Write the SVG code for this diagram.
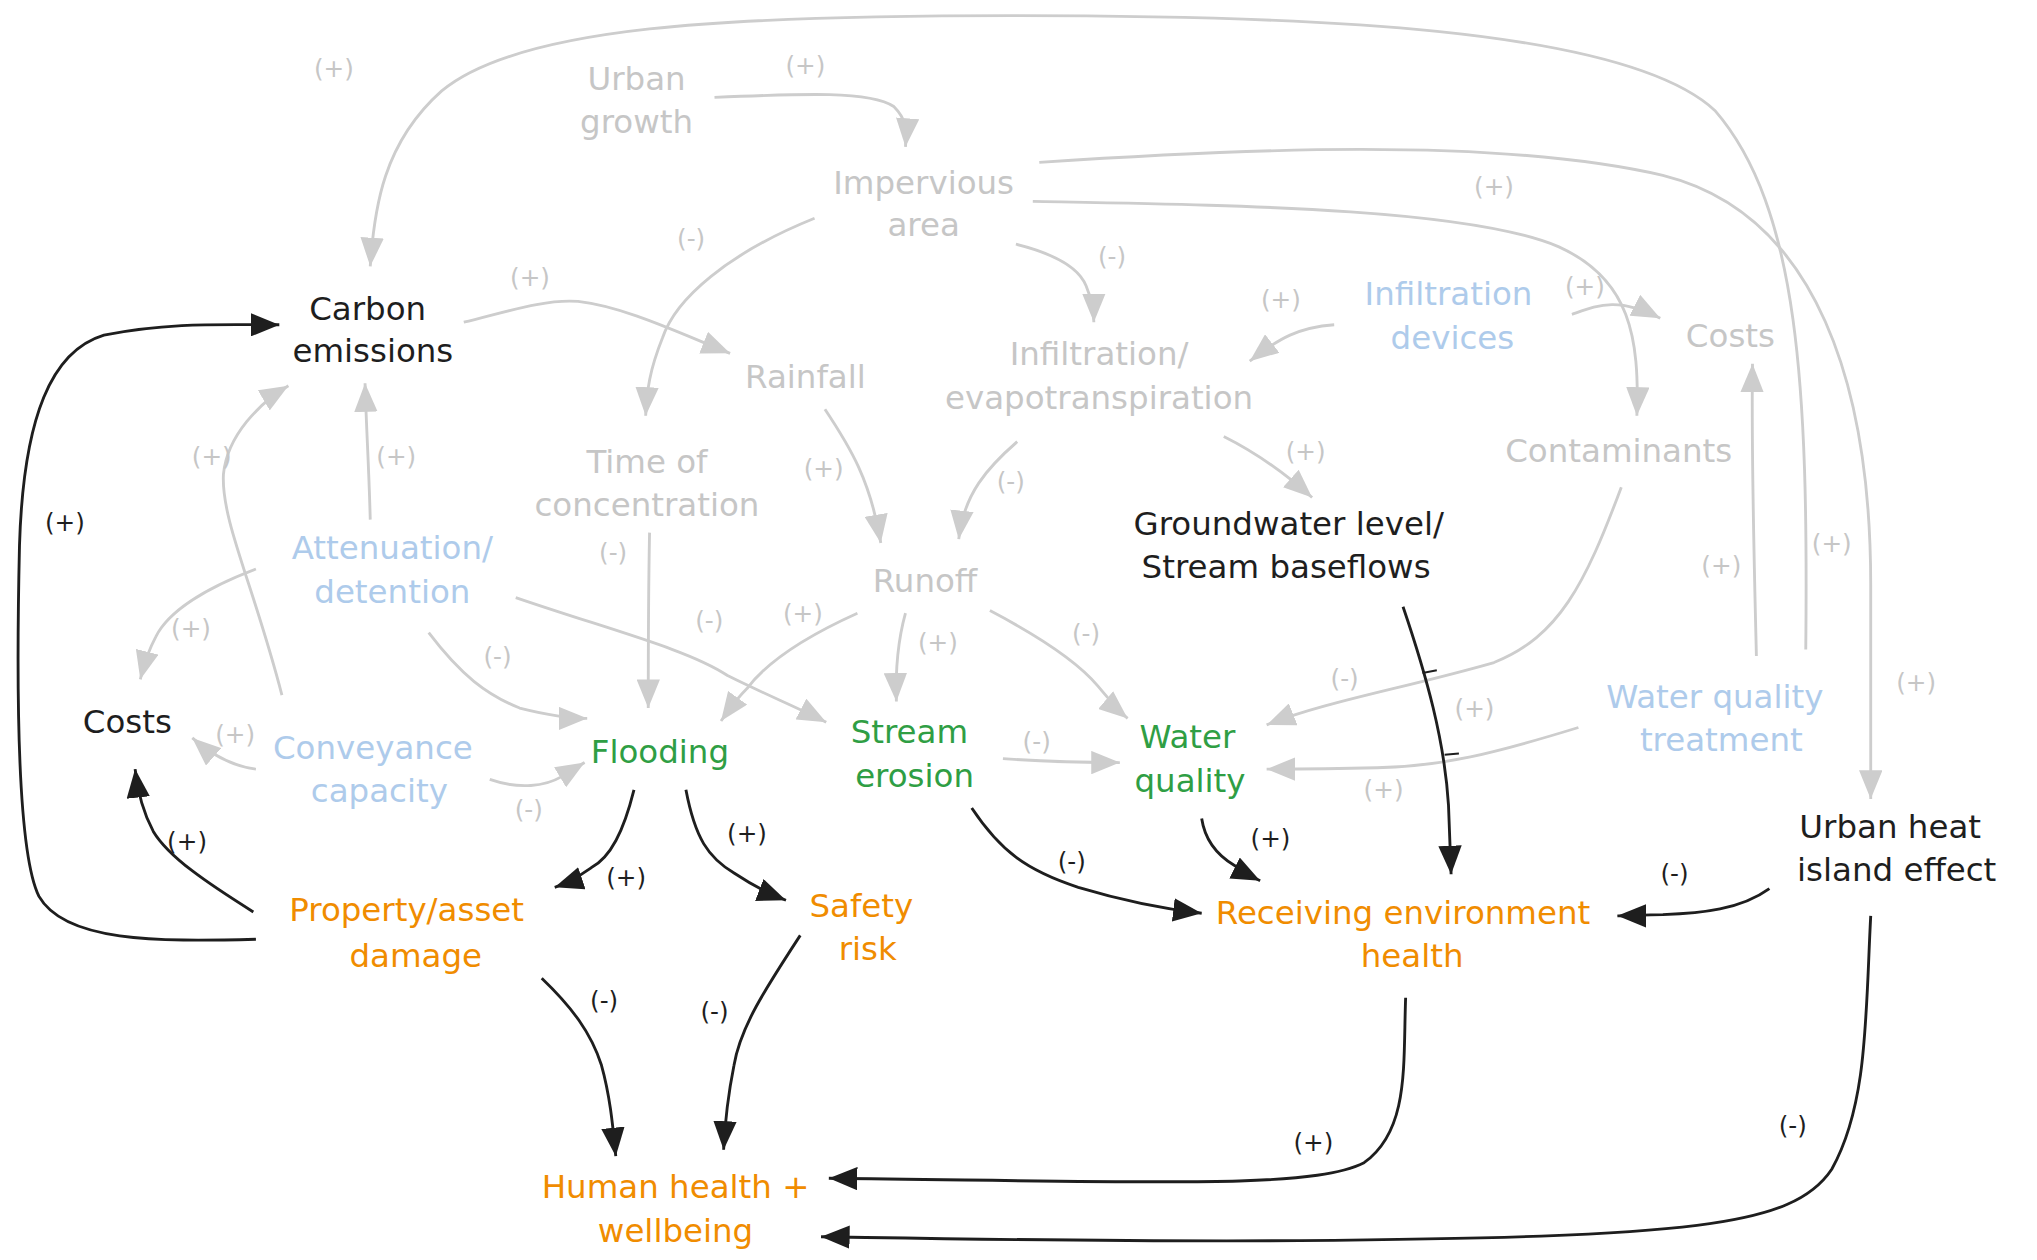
<svg xmlns="http://www.w3.org/2000/svg" width="2037" height="1260" viewBox="0 0 2037 1260">
<style>
text{font-family:"DejaVu Sans","Liberation Sans",sans-serif;text-anchor:middle}
.n{font-size:25px}
.l{font-size:19px}
.tg{fill:#c6c6c6}
.tb{fill:#aecbeb}
.tk{fill:#1e1e1e}
.tgr{fill:#2f9e44}
.to{fill:#f08c00}
.cg path{fill:none;stroke:#cdcdcd;stroke-width:2.2;marker-end:url(#ag)}
.ck path{fill:none;stroke:#1e1e1e;stroke-width:2.2;marker-end:url(#ak)}
.tick{stroke:#1e1e1e;stroke-width:1.6}
</style>
<defs>
<marker id="ag" viewBox="0 0 22 18" refX="22" refY="9" markerWidth="22" markerHeight="18" orient="auto" markerUnits="userSpaceOnUse"><path d="M0,0 L22,9 L0,18 Z" fill="#cdcdcd"/></marker>
<marker id="ak" viewBox="0 0 22 18" refX="22" refY="9" markerWidth="22" markerHeight="18" orient="auto" markerUnits="userSpaceOnUse"><path d="M0,0 L22,9 L0,18 Z" fill="#1e1e1e"/></marker>
</defs>
<rect width="2037" height="1260" fill="#ffffff"/>
<g transform="scale(1.29911)">
<g id="connectors">
<g class="cg">
<path d="M1390,500 C1392,300 1385,160 1320,85 C1250,20 1000,12 780,12 C560,12 400,20 340,70 C295,110 288,160 285,205"/>
<path d="M800,125 C950,115 1150,105 1280,135 C1400,165 1440,300 1440,450 L1440,615"/>
<path d="M795,155 C950,158 1130,160 1200,190 C1255,215 1262,260 1260,320"/>
<path d="M550,75 C620,72 670,70 688,82 C698,92 698,100 697,113"/>
<path d="M627,168 C560,195 520,230 510,260 C500,285 498,300 497,320"/>
<path d="M782,188 C810,195 830,205 836,220 C841,232 842,240 842,248"/>
<path d="M357,248 C390,240 420,230 445,232 C480,236 520,255 562,272"/>
<path d="M1027,250 C1000,252 985,260 962,278"/>
<path d="M1210,242 C1230,235 1245,228 1278,245"/>
<path d="M635,315 C655,345 670,370 678,418"/>
<path d="M783,340 C760,360 742,380 738,415"/>
<path d="M942,336 C970,350 990,365 1010,383"/>
<path d="M1248,375 C1220,450 1200,490 1150,510 C1080,530 1020,540 975,558"/>
<path d="M1215,560 C1150,580 1110,590 1060,591 C1020,592 1000,592 975,592"/>
<path d="M1352,505 C1350,420 1348,350 1349,280"/>
<path d="M500,410 C499,460 499,500 499,545"/>
<path d="M285,400 C284,360 282,330 281,295"/>
<path d="M217,535 C195,450 170,400 172,365 C175,335 200,310 222,297"/>
<path d="M197,438 C160,452 130,470 120,490 C112,505 110,515 108,523"/>
<path d="M330,487 C355,520 375,535 400,545 C420,550 435,553 452,553"/>
<path d="M397,460 C470,485 530,500 560,520 C590,535 615,545 636,556"/>
<path d="M660,472 C620,490 590,510 575,530 C565,540 560,548 555,555"/>
<path d="M697,472 C692,490 689,510 690,540"/>
<path d="M762,470 C800,490 830,510 845,528 C855,540 862,548 868,553"/>
<path d="M197,592 C180,590 165,583 148,568"/>
<path d="M377,600 C400,608 420,605 432,598 C440,593 445,590 450,587"/>
<path d="M772,584 C800,586 830,587 862,587"/>
</g>
<g class="ck">
<path d="M197,723 C120,725 50,725 30,690 C15,660 12,550 15,420 C18,320 40,270 80,258 C130,248 170,250 215,250"/>
<path d="M195,702 C160,680 130,660 118,640 C110,625 106,610 104,592"/>
<path d="M488,608 C480,640 470,660 455,668 C445,675 436,680 427,683"/>
<path d="M528,608 C535,645 545,660 565,672 C580,682 592,688 605,693"/>
<path d="M417,753 C440,775 455,795 463,820 C470,845 472,870 474,890"/>
<path d="M616,720 C590,760 570,790 565,820 C560,845 558,865 557,885"/>
<path d="M748,622 C770,655 790,670 830,683 C870,695 900,700 925,703"/>
<path d="M925,630 C928,650 940,660 950,666 C958,671 964,675 970,678"/>
<path d="M1080,467 C1098,520 1112,570 1115,620 L1117,673"/>
<path d="M1362,684 C1340,700 1310,703 1280,704 C1265,704 1255,705 1245,705"/>
<path d="M1082,768 C1080,820 1085,870 1050,895 C1010,915 900,910 638,907"/>
<path d="M1440,705 C1436,780 1438,850 1410,900 C1380,945 1300,952 1000,955 C850,956 700,953 632,952"/>
</g>
<line class="tick" x1="1095" y1="518" x2="1106" y2="516"/>
<line class="tick" x1="1112" y1="581" x2="1123" y2="580"/>
<g class="l tg">
<text x="257" y="59">(+)</text>
<text x="620" y="57">(+)</text>
<text x="532" y="190">(-)</text>
<text x="856" y="204">(-)</text>
<text x="408" y="220">(+)</text>
<text x="1150" y="150">(+)</text>
<text x="986" y="237">(+)</text>
<text x="1220" y="227">(+)</text>
<text x="634" y="367">(+)</text>
<text x="778" y="377">(-)</text>
<text x="1005" y="354">(+)</text>
<text x="163" y="358">(+)</text>
<text x="305" y="358">(+)</text>
<text x="472" y="432">(-)</text>
<text x="147" y="490">(+)</text>
<text x="383" y="512">(-)</text>
<text x="546" y="484">(-)</text>
<text x="618" y="479">(+)</text>
<text x="722" y="501">(+)</text>
<text x="836" y="494">(-)</text>
<text x="181" y="572">(+)</text>
<text x="407" y="630">(-)</text>
<text x="798" y="577">(-)</text>
<text x="1035" y="529">(-)</text>
<text x="1065" y="614">(+)</text>
<text x="1135" y="552">(+)</text>
<text x="1325" y="442">(+)</text>
<text x="1410" y="425">(+)</text>
<text x="1475" y="532">(+)</text>
</g>
<g class="l tk">
<text x="50" y="409">(+)</text>
<text x="144" y="654">(+)</text>
<text x="482" y="682">(+)</text>
<text x="575" y="648">(+)</text>
<text x="465" y="777">(-)</text>
<text x="550" y="785">(-)</text>
<text x="825" y="670">(-)</text>
<text x="978" y="652">(+)</text>
<text x="1289" y="679">(-)</text>
<text x="1011" y="886">(+)</text>
<text x="1380" y="873">(-)</text>
</g>
</g>
<g id="urban-growth" class="n tg"><text x="490" y="69">Urban</text><text x="490" y="102">growth</text></g>
<g id="impervious-area" class="n tg"><text x="711" y="149">Impervious</text><text x="711" y="182">area</text></g>
<g id="rainfall" class="n tg"><text x="620" y="299">Rainfall</text></g>
<g id="infiltration-evapotranspiration" class="n tg"><text x="846" y="281">Infiltration/</text><text x="846" y="315">evapotranspiration</text></g>
<g id="time-of-concentration" class="n tg"><text x="498" y="364">Time of</text><text x="498" y="397">concentration</text></g>
<g id="runoff" class="n tg"><text x="712" y="456">Runoff</text></g>
<g id="contaminants" class="n tg"><text x="1246" y="356">Contaminants</text></g>
<g id="costs-top" class="n tg"><text x="1332" y="267">Costs</text></g>
<g id="infiltration-devices" class="n tb"><text x="1115" y="235">Infiltration</text><text x="1118" y="269">devices</text></g>
<g id="attenuation-detention" class="n tb"><text x="302" y="430">Attenuation/</text><text x="302" y="464">detention</text></g>
<g id="conveyance-capacity" class="n tb"><text x="287" y="584">Conveyance</text><text x="292" y="617">capacity</text></g>
<g id="water-quality-treatment" class="n tb"><text x="1320" y="545">Water quality</text><text x="1325" y="578">treatment</text></g>
<g id="carbon-emissions" class="n tk"><text x="283" y="246">Carbon</text><text x="287" y="279">emissions</text></g>
<g id="costs-left" class="n tk"><text x="98" y="564">Costs</text></g>
<g id="groundwater" class="n tk"><text x="992" y="412">Groundwater level/</text><text x="990" y="445">Stream baseflows</text></g>
<g id="urban-heat-island" class="n tk"><text x="1455" y="645">Urban heat</text><text x="1460" y="678">island effect</text></g>
<g id="flooding" class="n tgr"><text x="508" y="587">Flooding</text></g>
<g id="stream-erosion" class="n tgr"><text x="700" y="572">Stream</text><text x="704" y="606">erosion</text></g>
<g id="water-quality" class="n tgr"><text x="914" y="576">Water</text><text x="916" y="610">quality</text></g>
<g id="property-damage" class="n to"><text x="313" y="709">Property/asset</text><text x="320" y="744">damage</text></g>
<g id="safety-risk" class="n to"><text x="663" y="706">Safety</text><text x="668" y="739">risk</text></g>
<g id="receiving-environment" class="n to"><text x="1080" y="711">Receiving environment</text><text x="1087" y="744">health</text></g>
<g id="human-health" class="n to"><text x="520" y="922">Human health +</text><text x="520" y="956">wellbeing</text></g>
</g>
</svg>
